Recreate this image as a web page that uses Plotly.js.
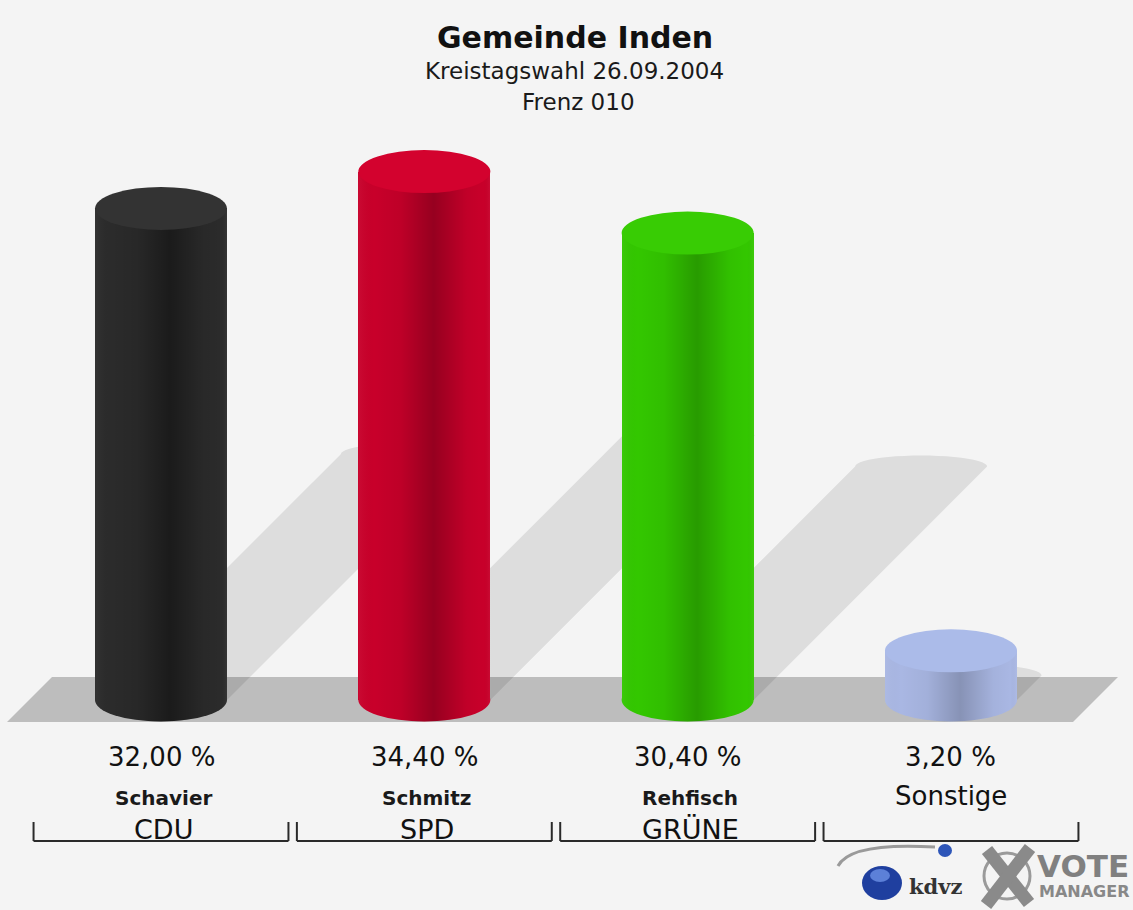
<!DOCTYPE html>
<html>
<head>
<meta charset="utf-8">
<script src="https://cdn.plot.ly/plotly-3.0.1.min.js"></script>
<style>
  html, body { margin: 0; padding: 0; background: #f4f4f4; }
  #chart { width: 1133px; height: 910px; }
</style>
</head>
<body>
<div id="chart"></div>
<script>
// ---------- data ----------
const categories  = ['CDU', 'SPD', 'GRÜNE', 'Sonstige'];
const candidates  = ['Schavier', 'Schmitz', 'Rehfisch', ''];
const values      = [32.0, 34.4, 30.4, 3.2];
const valueLabels = ['32,00 %', '34,40 %', '30,40 %', '3,20 %'];

// ---------- styles ----------
const sideColors = ['#2b2b2b', '#c8002a', '#33c700', '#a9b7e3'];
const topColors  = ['#333333', '#d3022e', '#38cc04', '#abbbe9'];
const bandAlpha  = [0.38, 0.25, 0.22, 0.2];

// ---------- geometry ----------
const W = 1133, H = 910;
const PX_PER_UNIT = 15.36, BASE_PY = 700, X0_PX = 161, STEP_PX = 263.33;
const xr = [-X0_PX / STEP_PX, (W - X0_PX) / STEP_PX];
const yr = [-(H - BASE_PY) / PX_PER_UNIT, BASE_PY / PX_PER_UNIT];
const BW = 132 / STEP_PX;              // bar width (x units)
const ELL = 21.5 / PX_PER_UNIT;        // ellipse half-height (y units)
const SHADOW_K = 0.5;                  // shadow length factor
const SH_ARC = 11 / PX_PER_UNIT;
const px2p = px => px / W;
const py2p = py => 1 - py / H;
const xs = categories.map((_, i) => i);
const FONT = 'DejaVu Sans, Liberation Sans, Arial, sans-serif';

const traces = [];

// bars (cylinder bodies)
traces.push({
  type: 'bar', x: xs, y: values, width: BW,
  marker: { color: sideColors, line: { width: 0 } },
  hoverinfo: 'skip', showlegend: false
});

// cylinder shading overlay (body + bottom arc)
xs.forEach((xi, i) => {
  const v = values[i];
  const px = [xi - BW / 2], py = [v];
  px.push(xi - BW / 2); py.push(0);
  for (let k = 0; k <= 30; k++) {
    const t = Math.PI + Math.PI * k / 30;
    px.push(xi + (BW / 2) * Math.cos(t));
    py.push(ELL * Math.sin(t));
  }
  px.push(xi + BW / 2); py.push(v);
  const a = bandAlpha[i];
  traces.push({
    type: 'scatter', mode: 'lines', x: px, y: py, fill: 'toself',
    fillcolor: 'rgba(0,0,0,0)',
    fillgradient: {
      type: 'horizontal', start: xi - BW / 2, stop: xi + BW / 2,
      colorscale: [
        [0, 'rgba(255,255,255,0.04)'],
        [0.12, 'rgba(0,0,0,0)'],
        [0.32, 'rgba(0,0,0,' + (a * 0.2) + ')'],
        [0.57, 'rgba(0,0,0,' + a + ')'],
        [0.82, 'rgba(0,0,0,' + (a * 0.15) + ')'],
        [0.95, 'rgba(0,0,0,0)'],
        [1, 'rgba(255,255,255,0.05)']
      ]
    },
    line: { width: 0 }, hoverinfo: 'skip', showlegend: false
  });
});

// ---------- shapes ----------
const shapes = [];
// floor
shapes.push({
  type: 'path', xref: 'paper', yref: 'paper', layer: 'below',
  path: `M ${px2p(7)},${py2p(722)} L ${px2p(52)},${py2p(677)} L ${px2p(1118)},${py2p(677)} L ${px2p(1073)},${py2p(722)} Z`,
  fillcolor: '#bdbdbd', line: { width: 0 }
});
// shadows (45 degree projection, length from value) - below the bars
xs.forEach((xi, i) => {
  const s = values[i] * SHADOW_K;
  const d = s * PX_PER_UNIT / STEP_PX;
  const pts = [];
  pts.push([xi - BW / 2, 0]);
  pts.push([xi - BW / 2 + d, s]);
  for (let k = 0; k <= 24; k++) {
    const t = Math.PI - Math.PI * k / 24;
    pts.push([xi + d + (BW / 2) * Math.cos(t), s + SH_ARC * Math.sin(t)]);
  }
  pts.push([xi + BW / 2 + d, s]);
  pts.push([xi + BW / 2, 0]);
  const path = 'M ' + pts.map(p => p[0] + ',' + p[1]).join(' L ') + ' Z';
  shapes.push({
    type: 'path', xref: 'x', yref: 'y', layer: 'below', path: path,
    fillcolor: 'rgba(0,0,0,0.095)', line: { width: 0 }
  });
});
// bottom ellipses
xs.forEach((xi, i) => {
  shapes.push({
    type: 'circle', xref: 'x', yref: 'y', layer: 'below',
    x0: xi - BW / 2, x1: xi + BW / 2, y0: -ELL, y1: ELL,
    fillcolor: sideColors[i], line: { width: 0 }
  });
});
// top ellipses
xs.forEach((xi, i) => {
  shapes.push({
    type: 'circle', xref: 'x', yref: 'y', layer: 'above',
    x0: xi - BW / 2, x1: xi + BW / 2, y0: values[i] - ELL, y1: values[i] + ELL,
    fillcolor: topColors[i], line: { width: 0 }
  });
});
// brackets
const BR = 0.484;
xs.forEach((xi) => {
  const lc = { color: '#2a2a2a', width: 2 };
  shapes.push({ type: 'line', xref: 'x', yref: 'paper', x0: xi - BR, x1: xi + BR, y0: py2p(841), y1: py2p(841), line: lc });
  shapes.push({ type: 'line', xref: 'x', yref: 'paper', x0: xi - BR, x1: xi - BR, y0: py2p(822), y1: py2p(841), line: lc });
  shapes.push({ type: 'line', xref: 'x', yref: 'paper', x0: xi + BR, x1: xi + BR, y0: py2p(822), y1: py2p(841), line: lc });
});
// logo decoration
shapes.push({
  type: 'path', xref: 'paper', yref: 'paper',
  path: `M ${px2p(838)},${py2p(866)} Q ${px2p(850)},${py2p(842)} ${px2p(935)},${py2p(847)}`,
  line: { color: '#9a9a9a', width: 3 }
});
shapes.push({ type: 'circle', xref: 'paper', yref: 'paper', x0: px2p(938), x1: px2p(952), y0: py2p(857), y1: py2p(844), fillcolor: '#2d55b8', line: { width: 0 } });
shapes.push({ type: 'circle', xref: 'paper', yref: 'paper', x0: px2p(862), x1: px2p(902), y0: py2p(900), y1: py2p(866), fillcolor: '#1f3f9f', line: { width: 0 } });
shapes.push({ type: 'circle', xref: 'paper', yref: 'paper', x0: px2p(870), x1: px2p(890), y0: py2p(882), y1: py2p(869), fillcolor: '#5c80d8', line: { width: 0 } });
shapes.push({ type: 'circle', xref: 'paper', yref: 'paper', x0: px2p(984), x1: px2p(1030), y0: py2p(899), y1: py2p(853), fillcolor: 'rgba(0,0,0,0)', line: { color: '#9a9a9a', width: 3 } });
shapes.push({ type: 'line', xref: 'paper', yref: 'paper', x0: px2p(987), x1: px2p(1029), y0: py2p(850), y1: py2p(903), line: { color: '#8a8a8a', width: 13 } });
shapes.push({ type: 'line', xref: 'paper', yref: 'paper', x0: px2p(1030), x1: px2p(986), y0: py2p(848), y1: py2p(905), line: { color: '#8a8a8a', width: 13 } });

// ---------- annotations ----------
const ann = [];
ann.push({ text: 'Gemeinde Inden', xref: 'paper', yref: 'paper', x: px2p(575), y: py2p(38), showarrow: false,
  font: { family: FONT, size: 30, color: '#111', weight: 'bold' }, xanchor: 'center', yanchor: 'middle' });
ann.push({ text: 'Kreistagswahl 26.09.2004', xref: 'paper', yref: 'paper', x: px2p(574), y: py2p(71), showarrow: false,
  font: { family: FONT, size: 23, color: '#1a1a1a' }, xanchor: 'center', yanchor: 'middle' });
ann.push({ text: 'Frenz 010', xref: 'paper', yref: 'paper', x: px2p(578), y: py2p(102), showarrow: false,
  font: { family: FONT, size: 23, color: '#1a1a1a' }, xanchor: 'center', yanchor: 'middle' });

xs.forEach((xi, i) => {
  ann.push({ text: valueLabels[i], xref: 'x', yref: 'paper', x: xi, y: py2p(757), showarrow: false,
    font: { family: FONT, size: 26, color: '#111' }, xanchor: 'center', yanchor: 'middle' });
  if (candidates[i]) {
    ann.push({ text: candidates[i], xref: 'x', yref: 'paper', x: xi + 0.01, y: py2p(798), showarrow: false,
      font: { family: FONT, size: 20, color: '#1a1a1a', weight: 'bold' }, xanchor: 'center', yanchor: 'middle' });
    ann.push({ text: categories[i], xref: 'x', yref: 'paper', x: xi + 0.01, y: py2p(829), showarrow: false,
      font: { family: FONT, size: 27, color: '#111' }, xanchor: 'center', yanchor: 'middle' });
  } else {
    ann.push({ text: categories[i], xref: 'x', yref: 'paper', x: xi, y: py2p(796), showarrow: false,
      font: { family: FONT, size: 26, color: '#111' }, xanchor: 'center', yanchor: 'middle' });
  }
});

// logo texts
ann.push({ text: 'kdvz', xref: 'paper', yref: 'paper', x: px2p(907), y: py2p(886), showarrow: false,
  font: { family: 'DejaVu Serif, Liberation Serif, serif', size: 21, color: '#333', weight: 'bold' }, xanchor: 'left', yanchor: 'middle' });
ann.push({ text: 'VOTE', xref: 'paper', yref: 'paper', x: px2p(1035), y: py2p(866), showarrow: false,
  font: { family: FONT, size: 31, color: '#808080', weight: 'bold' }, xanchor: 'left', yanchor: 'middle' });
ann.push({ text: 'MANAGER', xref: 'paper', yref: 'paper', x: px2p(1037), y: py2p(891), showarrow: false,
  font: { family: FONT, size: 16, color: '#888', weight: 'bold' }, xanchor: 'left', yanchor: 'middle' });

const layout = {
  width: W, height: H,
  margin: { l: 0, r: 0, t: 0, b: 0, autoexpand: false },
  paper_bgcolor: '#f4f4f4', plot_bgcolor: 'rgba(0,0,0,0)',
  xaxis: { range: xr, visible: false, fixedrange: true },
  yaxis: { range: yr, visible: false, fixedrange: true },
  showlegend: false, bargap: 0,
  shapes: shapes, annotations: ann
};

Plotly.newPlot('chart', traces, layout, { displayModeBar: false, staticPlot: true });
</script>
</body>
</html>
